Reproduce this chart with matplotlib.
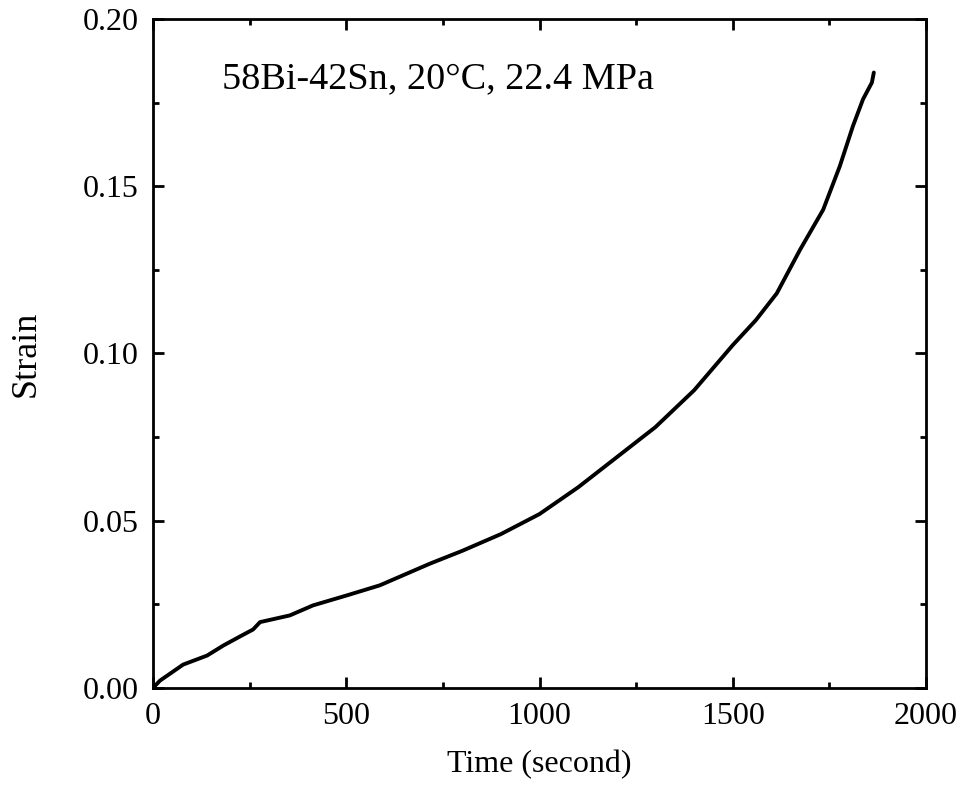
import matplotlib
matplotlib.use("Agg")
import matplotlib.pyplot as plt
from matplotlib.ticker import MultipleLocator, FormatStrFormatter

time_s = [0, 18, 78, 140, 182, 225, 259, 277, 354, 414, 502, 587, 717,
          800, 900, 1000, 1100, 1200, 1300, 1400, 1500, 1560, 1614, 1674,
          1734, 1777, 1811, 1837, 1860, 1865]
strain = [0.0, 0.0022, 0.0070, 0.0097, 0.0127, 0.0154, 0.0175, 0.0197,
          0.0217, 0.0247, 0.0277, 0.0307, 0.0372, 0.041, 0.046, 0.052,
          0.060, 0.069, 0.078, 0.089, 0.1025, 0.110, 0.118, 0.131, 0.143,
          0.156, 0.168, 0.176, 0.181, 0.184]

label_text = "58Bi-42Sn, 20°C, 22.4 MPa"

plt.rcParams['font.family'] = ['Liberation Serif', 'DejaVu Serif']

fig = plt.figure(figsize=(9.61, 8.05), dpi=100)
ax = fig.add_axes([153/961, 117/805, 773/961, 669/805])

ax.plot(time_s, strain, color='black', lw=2.8, solid_capstyle='round')

ax.set_xlim(0, 2000)
ax.set_ylim(0, 0.20)
ax.xaxis.set_major_locator(MultipleLocator(500))
ax.xaxis.set_minor_locator(MultipleLocator(250))
ax.yaxis.set_major_locator(MultipleLocator(0.05))
ax.yaxis.set_minor_locator(MultipleLocator(0.025))
ax.yaxis.set_major_formatter(FormatStrFormatter('%.2f'))

for s in ax.spines.values():
    s.set_linewidth(2.0)
ax.tick_params(which='both', direction='in', top=True, right=True, width=2.0,
               labelsize=23, pad=10)
ax.tick_params(which='major', length=8)
ax.tick_params(which='minor', length=4)

ax.set_xlabel("Time (second)", fontsize=23, labelpad=14)
ax.set_ylabel("Strain", fontsize=26, labelpad=29)

ax.text(178, 0.182, label_text, fontsize=27.5, ha='left', va='center')

fig.savefig("out.png", dpi=100)
